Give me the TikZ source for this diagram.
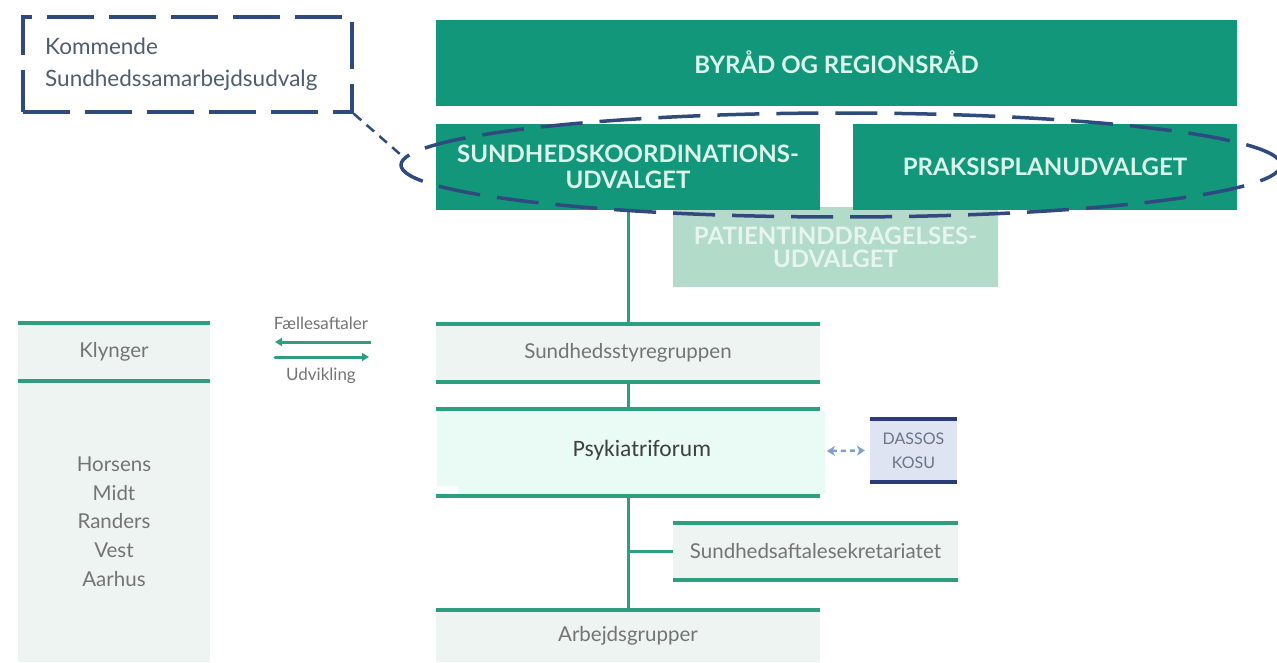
\documentclass[tikz,border=0pt]{standalone}
\usepackage{fontspec}
\setmainfont{Lato}
\newfontfamily\calib{Carlito}
\usetikzlibrary{arrows.meta,shapes.geometric}
\definecolor{dkgreen}{HTML}{12977A}
\definecolor{boxtxt}{HTML}{DDF6EC}
\definecolor{patfill}{HTML}{B2DBCA}
\definecolor{patxt}{HTML}{E6F5EE}
\definecolor{lgreen}{HTML}{2E9E80}
\definecolor{lfill}{HTML}{EEF4F2}
\definecolor{mint}{HTML}{E9FBF4}
\definecolor{navy}{HTML}{2F4A7E}
\definecolor{dasfill}{HTML}{DEE4F1}
\definecolor{dasline}{HTML}{2B3A78}
\definecolor{arrblue}{HTML}{7C9ED0}
\definecolor{gtxt}{HTML}{747474}
\definecolor{ktxt}{HTML}{4F5D70}
\definecolor{dtxt}{HTML}{6A7588}
\definecolor{ptxt}{HTML}{404040}
\begin{document}
\begin{tikzpicture}[x=1pt,y=-1pt,
  darkbox/.style={fill=dkgreen,text=boxtxt,font=\bfseries\fontsize{24}{26}\selectfont,align=center,inner sep=0pt},
  patbox/.style={fill=patfill,text=patxt,font=\bfseries\fontsize{24}{23}\selectfont,align=center,inner sep=0pt},
  band/.style={fill=lfill,text=gtxt,font=\fontsize{20.5}{28.7}\selectfont,align=center,inner sep=0pt},
  gline/.style={draw=lgreen,line width=4pt},
  vline/.style={draw=lgreen,line width=3pt},
  smalltxt/.style={text=gtxt,font=\fontsize{17}{20}\selectfont,inner sep=0pt},
  bigdash/.style={draw=navy,line width=3.5pt,dash pattern=on 42pt off 17pt}
]
\useasboundingbox (0,0) rectangle (1277,662);
\fill[white] (0,0) rectangle (1277,662);

% top boxes
\node[patbox,minimum width=325pt,minimum height=80pt] (pat) at (835.5,247) {PATIENTINDDRAGELSES-\\UDVALGET};
\node[darkbox,minimum width=801pt,minimum height=86pt] (byrad) at (836.5,62.5) {BYRÅD OG REGIONSRÅD};
\node[darkbox,minimum width=384pt,minimum height=86pt] (sk) at (628,167) {SUNDHEDSKOORDINATIONS-\\UDVALGET};
\node[darkbox,minimum width=384pt,minimum height=86pt] (pp) at (1045,167) {PRAKSISPLANUDVALGET};

% left column
\node[band,minimum width=192pt,minimum height=58pt] (klyn) at (114,352) {Klynger};
\node[band,minimum width=192pt,minimum height=281pt] (byer) at (114,521.5) {Horsens\\Midt\\Randers\\Vest\\Aarhus};
\draw[gline] (klyn.north west) -- (klyn.north east);
\draw[gline] (klyn.south west) -- (klyn.south east);

% Fællesaftaler / Udvikling
\node[smalltxt] (fa) at (321,323) {Fællesaftaler};
\node[smalltxt] (udv) at (321,376) {Udvikling};
\coordinate (a1r) at (371,342);
\coordinate (a1l) at (275,342);
\coordinate (a2l) at (275,357);
\coordinate (a2r) at (369,357);
\draw[draw=lgreen,line width=3pt,-{Triangle[length=7pt,width=8pt]}] (a1r) -- (a1l);
\draw[draw=lgreen,line width=3pt,line cap=round,-{Triangle[length=7pt,width=8pt]}] (a2l) -- (a2r);

% centre column
\node[band,minimum width=384pt,minimum height=58pt] (styre) at (628,353) {Sundhedsstyregruppen};
\draw[gline] (styre.north west) -- (styre.north east);
\draw[gline] (styre.south west) -- (styre.south east);

\node[minimum width=384pt,minimum height=87pt,inner sep=0pt] (psyk) at (628,452.5) {};
\fill[mint] (437,411) -- (825,411) -- (825,494) -- (458,494) -- (458,486) -- (437,486) -- cycle;
\draw[gline] (psyk.north west) -- (psyk.north east);
\draw[gline] (psyk.south west) -- (psyk.south east);
\node[text=ptxt,font=\calib\fontsize{23.5}{26}\selectfont,inner sep=0pt] (psyktxt) at (642,450) {Psykiatriforum};
\coordinate (psykR) at (825,451);

\node[band,minimum width=285pt,minimum height=57pt] (sekr) at (815.5,551.5) {Sundhedsaftalesekretariatet};
\draw[gline] (sekr.north west) -- (sekr.north east);
\draw[gline] (sekr.south west) -- (sekr.south east);

\node[band,minimum width=384pt,minimum height=52pt] (arb) at (628,636) {Arbejdsgrupper};
\draw[gline] (arb.north west) -- (arb.north east);

% DASSOS KOSU
\node[fill=dasfill,text=dtxt,font=\fontsize{16}{24}\selectfont,align=center,inner sep=0pt,minimum width=87pt,minimum height=63pt] (dassos) at (913.5,450.5) {DASSOS\\KOSU};
\draw[draw=dasline,line width=4pt] (dassos.north west) -- (dassos.north east);
\draw[draw=dasline,line width=4pt] (dassos.south west) -- (dassos.south east);
\draw[draw=arrblue,line width=2.5pt,dash pattern=on 5pt off 4pt,{Stealth[length=8pt,width=10pt]}-{Stealth[length=8pt,width=10pt]}] ([xshift=2pt]psykR) -- ([xshift=-5pt]dassos.west);

% vertical connectors
\draw[vline] (sk.south) -- (styre.north);
\draw[vline] (styre.south) -- (psyk.north);
\draw[vline] (psyk.south) -- (arb.north);
\draw[vline] (psyk.south |- sekr.west) -- (sekr.west);

% dashed ellipse and future committee
\node[ellipse,bigdash,minimum width=880pt,minimum height=104pt,inner sep=0pt] (ell) at (841,165) {};
\node[draw=navy,line width=3.5pt,dash pattern=on 47pt off 15pt,minimum width=329pt,minimum height=95pt,inner sep=0pt] (komm) at (187.5,64.5) {};
\node[anchor=west,align=left,text=ktxt,font=\fontsize{22.5}{32}\selectfont,inner sep=0pt] (kommtxt) at (45,64) {Kommende\\Sundhedssamarbejdsudvalg};
\draw[draw=navy,line width=2.5pt,dash pattern=on 10pt off 7pt] (komm.south east) -- (ell.179);
\end{tikzpicture}
\end{document}
